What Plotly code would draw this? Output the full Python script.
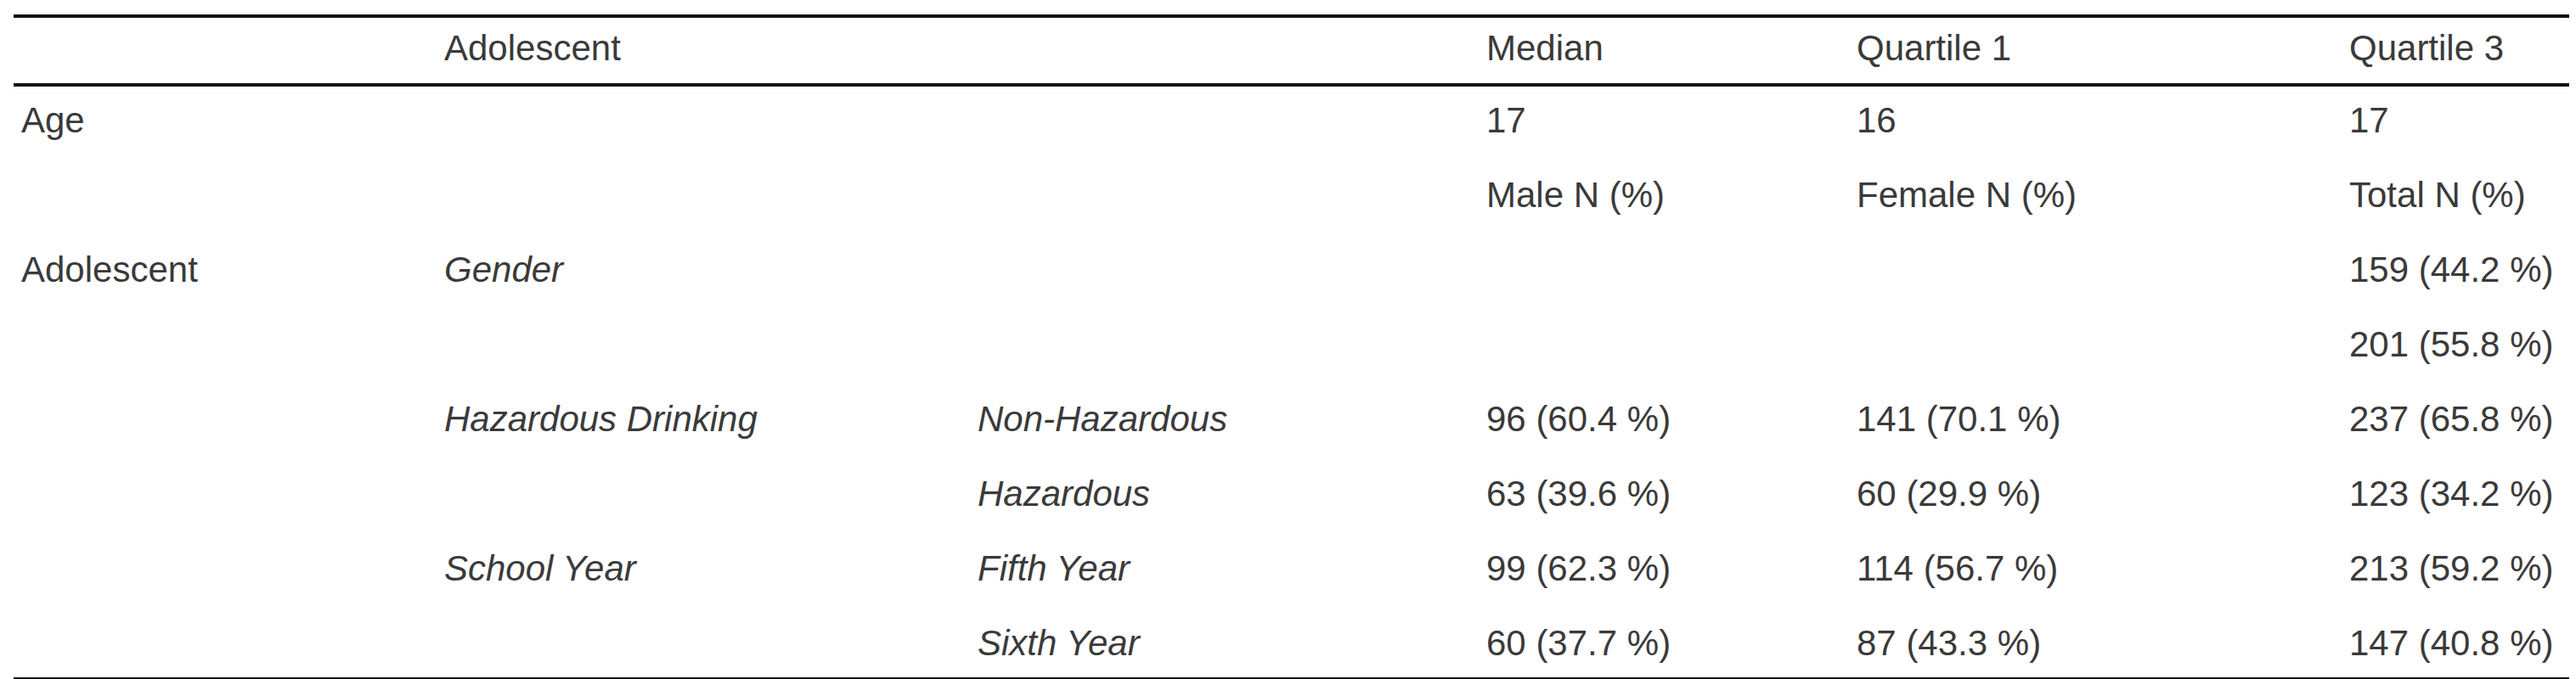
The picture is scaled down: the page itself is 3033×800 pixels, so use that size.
import plotly.graph_objects as go

headers = ["", "Adolescent", "", "Median", "Quartile 1", "Quartile 3"]
rows = [
    ["Age", "", "", "17", "16", "17"],
    ["", "", "", "Male N (%)", "Female N (%)", "Total N (%)"],
    ["Adolescent", "<i>Gender</i>", "", "", "", "159 (44.2 %)"],
    ["", "", "", "", "", "201 (55.8 %)"],
    ["", "<i>Hazardous Drinking</i>", "<i>Non-Hazardous</i>", "96 (60.4 %)", "141 (70.1 %)", "237 (65.8 %)"],
    ["", "", "<i>Hazardous</i>", "63 (39.6 %)", "60 (29.9 %)", "123 (34.2 %)"],
    ["", "<i>School Year</i>", "<i>Fifth Year</i>", "99 (62.3 %)", "114 (56.7 %)", "213 (59.2 %)"],
    ["", "", "<i>Sixth Year</i>", "60 (37.7 %)", "87 (43.3 %)", "147 (40.8 %)"],
]

col_x = [15, 513, 1141, 1740, 2176, 2756]
header_y = 48
row_y0, row_dy = 133, 88

W, H = 3033, 800
fig = go.Figure()
fig.add_trace(go.Scatter(x=[0, W], y=[0, H], mode="markers", marker=dict(opacity=0), hoverinfo="skip", showlegend=False))

font = dict(family="Liberation Sans", size=42, color="#3a3a3a")
ann = []
for x, t in zip(col_x, headers):
    if t:
        ann.append(dict(x=x, y=header_y, text=t, xanchor="left", yanchor="middle", showarrow=False, font=font))
for i, r in enumerate(rows):
    y = row_y0 + i * row_dy
    for x, t in zip(col_x, r):
        if t:
            ann.append(dict(x=x, y=y, text=t, xanchor="left", yanchor="middle", showarrow=False, font=font))

shapes = [dict(type="line", x0=8, x1=3030, y0=yy, y1=yy, line=dict(color="#111", width=4)) for yy in (11, 92, 792)]

fig.update_layout(
    width=W, height=H, margin=dict(l=0, r=0, t=0, b=0),
    paper_bgcolor="white", plot_bgcolor="white",
    xaxis=dict(range=[0, W], visible=False, fixedrange=True),
    yaxis=dict(range=[H, 0], visible=False, fixedrange=True),
    annotations=ann, shapes=shapes,
)
fig.write_html("out.html")
